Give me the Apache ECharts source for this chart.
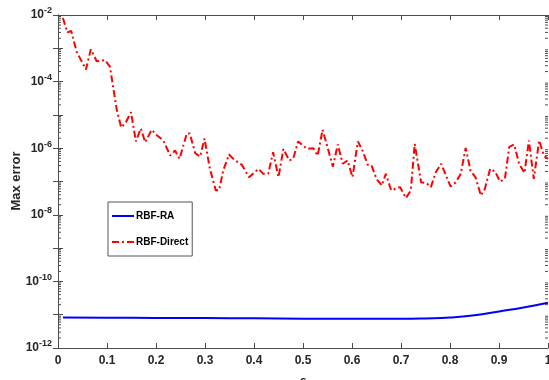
<!DOCTYPE html>
<html><head><meta charset="utf-8">
<script src="https://cdn.jsdelivr.net/npm/echarts@6/dist/echarts.min.js"></script>
<style>html,body{margin:0;padding:0;background:#fff}#c{width:549px;height:380px}</style>
</head><body><div id="c"></div>
<script>
// RBF-Direct (red dash-dot) : epsilon vs max error
const directX = [0.010,0.019,0.027,0.038,0.057,0.067,0.079,0.096,0.106,0.120,0.129,0.139,0.149,0.159,0.169,0.178,0.191,0.201,0.215,0.229,0.239,0.248,0.263,0.269,0.280,0.290,0.299,0.310,0.322,0.329,0.337,0.349,0.361,0.375,0.390,0.409,0.419,0.429,0.439,0.450,0.460,0.472,0.480,0.490,0.508,0.521,0.530,0.540,0.550,0.561,0.571,0.581,0.591,0.601,0.612,0.622,0.632,0.640,0.650,0.661,0.669,0.680,0.698,0.710,0.720,0.728,0.741,0.752,0.761,0.771,0.782,0.792,0.801,0.812,0.822,0.832,0.842,0.852,0.863,0.871,0.882,0.892,0.902,0.912,0.921,0.931,0.941,0.952,0.961,0.971,0.982,0.992,1.000];
const directY = [8.1e-3,3.0e-3,3.3e-3,7.9e-4,2.3e-4,9.3e-4,4.1e-4,4.4e-4,2.8e-4,1.4e-5,4.2e-6,6.2e-6,1.2e-5,1.6e-6,3.9e-6,1.5e-6,3.6e-6,2.5e-6,1.7e-6,6.0e-7,8.5e-7,4.8e-7,2.8e-6,2.75e-6,7.1e-7,5.6e-7,1.95e-6,2.4e-7,5.4e-8,5.6e-8,2.1e-7,6.5e-7,4.3e-7,3.2e-7,1.35e-7,2.4e-7,1.7e-7,1.7e-7,7.6e-7,1.35e-7,9.5e-7,4.3e-7,4.8e-7,1.6e-6,9.5e-7,1.0e-6,6.0e-7,3.6e-6,1.07e-6,2.8e-7,1.3e-6,3.4e-7,4.3e-7,1.35e-7,1.6e-6,8.1e-7,3.2e-7,3.0e-7,1.2e-7,7.6e-8,1.7e-7,5.4e-8,6.8e-8,3.2e-8,5.4e-8,1.35e-6,9.5e-8,8.9e-8,6.8e-8,1.9e-7,3.4e-7,1.5e-7,7.1e-8,9.5e-8,1.7e-7,1.02e-6,2.1e-7,1.35e-7,3.8e-8,6.0e-8,2.4e-7,2.0e-7,1.0e-7,1.2e-7,1.1e-6,1.3e-6,3.4e-7,1.8e-7,1.7e-6,1.2e-7,1.7e-6,5.8e-7,4.8e-7];
// RBF-RA (blue solid)
const raX = [0.01,0.1,0.2,0.3,0.4,0.5,0.6,0.7,0.75,0.8,0.85,0.9,0.95,1.0];
const raY = [8.2e-12,8.1e-12,8.0e-12,7.9e-12,7.8e-12,7.6e-12,7.5e-12,7.5e-12,7.7e-12,8.2e-12,9.6e-12,1.25e-11,1.65e-11,2.3e-11];
const xTicks = [0,0.1,0.2,0.3,0.4,0.5,0.6,0.7,0.8,0.9,1];
const yExpLabels = [-12,-10,-8,-6,-4,-2];

const FONT = '"Liberation Sans", Arial, sans-serif';
const AX = '#4d4d4d';
const TXT = '#262626';

const zip = (a,b)=>a.map((v,i)=>[v,b[i]]);
const minorVals = [];
for (let e=-12;e<-2;e++) for (let k=2;k<=9;k++) minorVals.push([0, k*Math.pow(10,e)]);

const yLabel = v => {
  const e = Math.round(Math.log10(v));
  return yExpLabels.includes(e) ? '10{s|' + e + '}' : '';
};

const chart = echarts.init(document.getElementById('c'));
chart.setOption({
  animation:false,
  backgroundColor:'#fff',
  grid:{left:58,right:1,top:15,bottom:32,containLabel:false,outerBoundsMode:'none'},
  graphic:[{
    type:'text',x:10,y:181,rotation:Math.PI/2,
    style:{text:'Max error',fontFamily:FONT,fontWeight:'bold',fontSize:13,fill:TXT,align:'center',verticalAlign:'top'}
  }],
  xAxis:[{
    type:'value',min:0,max:1,interval:0.1,
    name:'ε',nameLocation:'middle',nameGap:27,nameMoveOverlap:false,
    nameTextStyle:{fontFamily:FONT,fontWeight:'bold',fontSize:13,color:TXT},
    axisLine:{lineStyle:{color:AX}},
    axisTick:{inside:true,length:5,lineStyle:{color:AX}},
    axisLabel:{margin:7,fontFamily:FONT,fontWeight:'bold',fontSize:12,color:TXT,
      formatter:v=>{const t=xTicks.find(x=>Math.abs(x-v)<1e-9);return t===undefined?'':String(t);}},
    splitLine:{show:false}
  },{
    type:'value',min:0,max:1,interval:0.1,position:'top',
    axisLine:{lineStyle:{color:AX}},
    axisTick:{inside:true,length:5,lineStyle:{color:AX}},
    axisLabel:{show:false},splitLine:{show:false}
  }],
  yAxis:[{
    type:'log',logBase:10,min:1e-12,max:1e-2,interval:1,
    axisLine:{show:true,lineStyle:{color:AX}},
    axisTick:{show:true,inside:true,length:5,lineStyle:{color:AX}},
    axisLabel:{margin:6,fontFamily:FONT,fontWeight:'bold',fontSize:12,color:TXT,formatter:yLabel,
      rich:{s:{fontFamily:FONT,fontWeight:'bold',fontSize:9,color:TXT,verticalAlign:'bottom',padding:[0,0,8,0]}}},
    splitLine:{show:false}
  },{
    type:'log',logBase:10,min:1e-12,max:1e-2,interval:1,position:'right',
    axisLine:{show:true,lineStyle:{color:AX}},
    axisTick:{show:true,inside:true,length:5,lineStyle:{color:AX}},
    axisLabel:{show:false},splitLine:{show:false}
  }],
  legend:{
    orient:'vertical',left:108,top:202,
    backgroundColor:'#fff',borderColor:'#555',borderWidth:1,
    padding:[9,4,9,3],itemGap:16,itemWidth:22,itemHeight:8,
    itemStyle:{opacity:0},
    textStyle:{fontFamily:FONT,fontWeight:'bold',fontSize:10,color:'#000',padding:[0,0,0,-3]},
    data:['RBF-RA','RBF-Direct']
  },
  series:[{
    name:'RBF-RA',type:'line',data:zip(raX,raY),smooth:true,symbol:'none',
    lineStyle:{color:'#0000ff',width:2},itemStyle:{color:'#0000ff'}
  },{
    name:'RBF-Direct',type:'line',data:zip(directX,directY),symbol:'none',
    lineStyle:{color:'#ff0000',width:2,type:[7,3,2,3]},itemStyle:{color:'#ff0000'}
  },{
    type:'custom',silent:true,data:minorVals,clip:false,
    renderItem:(params,api)=>{
      const p = api.coord([0, api.value(1)]);
      const q = api.coord([1, api.value(1)]);
      return {type:'group',children:[
        {type:'line',shape:{x1:p[0],y1:p[1],x2:p[0]+3,y2:p[1]},style:{stroke:AX,lineWidth:1}},
        {type:'line',shape:{x1:q[0],y1:q[1],x2:q[0]-3,y2:q[1]},style:{stroke:AX,lineWidth:1}}
      ]};
    }
  }]
});
</script></body></html>
